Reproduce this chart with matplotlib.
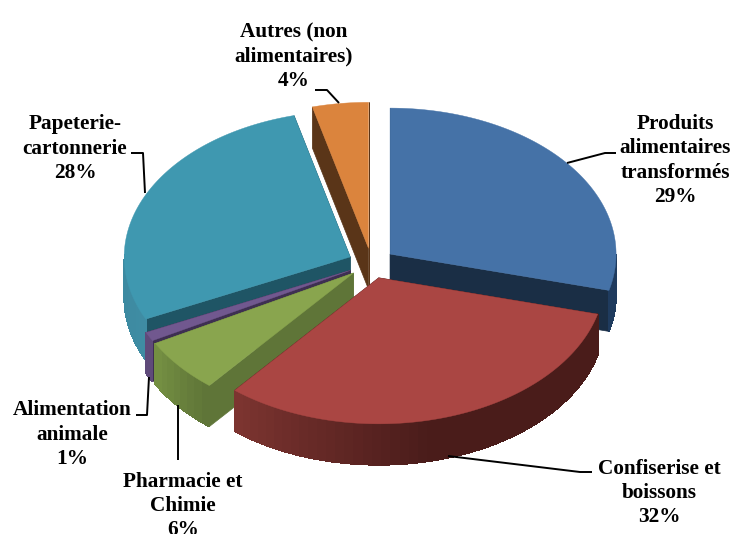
import numpy as np
import matplotlib
matplotlib.use("Agg")
import matplotlib.pyplot as plt
from matplotlib.collections import PolyCollection
from matplotlib.colors import to_rgb

labels = ["Produits\nalimentaires\ntransformés\n29%", "Confiserise et\nboissons\n32%",
          "Pharmacie et\nChimie\n6%", "Alimentation\nanimale\n1%",
          "Papeterie-\ncartonnerie\n28%", "Autres (non\nalimentaires)\n4%"]
shares = [29, 32, 6, 1, 28, 4]

top_colors = ["#4572A7", "#AA4643", "#89A54E", "#71588F", "#3F98B0", "#DB843D"]
cut_colors = ["#1A2E45", "#4A1C1A", "#5F7538", "#3E2F52", "#1F5565", "#5A3518"]
# outer wall colour at start and end of each slice
wall_start = ["#1F3B5E", "#4A1C1A", "#5F7538", "#5F4A7A", "#3F8CA3", "#5A3518"]
wall_end = ["#1F3B5E", "#7C3430", "#748F42", "#5F4A7A", "#33839A", "#5A3518"]

label_pos = [(675.5, 160.5), (659, 493), (183, 506), (72, 434.5), (75, 148.5), (294, 56.5)]
leaders = [[(567, 163), (605, 153), (616, 153)],
           [(448, 456), (580, 472), (592, 472)],
           [(178, 405), (178, 460)],
           [(149, 377), (147, 415), (136, 415)],
           [(145, 193), (143, 153), (131, 153)],
           [(315, 90), (327, 90), (339, 103)]]

cx, cy = 371.5, 263.4
rx, ry = 226, 146
explode = 0.104
depth = 41
# painter order, back to front
order = [5, 4, 0, 3, 2, 1]

fig = plt.figure(figsize=(7.34, 5.34), dpi=100)
ax = fig.add_axes([0, 0, 1, 1])
ax.set_xlim(0, 734)
ax.set_ylim(534, 0)
ax.axis("off")

edges = np.cumsum([0] + shares) / sum(shares) * 2 * np.pi


def rim(x0, y0, t):
    return np.column_stack([x0 + rx * np.sin(t), y0 - ry * np.cos(t)])


for i in order:
    t0, t1 = edges[i], edges[i + 1]
    mid = (t0 + t1) / 2
    x0 = cx + explode * rx * np.sin(mid)
    y0 = cy - explode * ry * np.cos(mid)
    t = np.linspace(t0, t1, max(int((t1 - t0) * 25), 3))
    arc = rim(x0, y0, t)
    fine = rim(x0, y0, np.linspace(t0, t1, 200))
    down = np.array([0, depth])
    z = order.index(i) * 3

    # cut walls
    for end in [arc[0], arc[-1]]:
        quad = [(x0, y0), end, end + down, (x0, y0 + depth)]
        ax.fill(*zip(*quad), color=cut_colors[i], lw=0.5, zorder=1 + z)

    # outer wall, only the front part shows
    c0, c1 = np.array(to_rgb(wall_start[i])), np.array(to_rgb(wall_end[i]))
    front = np.cos(np.linspace(t0, t1, 200)) <= 0
    if front.any():
        f = fine[front]
        # smooth base under the bands so the outline stays clean
        base = np.vstack([f, f[::-1] + down])
        ax.fill(base[:, 0], base[:, 1], color=tuple((c0 + c1) / 2), lw=0.3, zorder=2 + z)
    quads = []
    cols = []
    for k in range(len(t) - 1):
        tm = (t[k] + t[k + 1]) / 2
        if np.cos(tm) > 0:
            continue
        quads.append([arc[k], arc[k + 1], arc[k + 1] + down, arc[k] + down])
        g = k / max(len(t) - 2, 1)
        if i == 1:
            # red stays dark until about the bottom, then lightens to the left
            g = max(0, (g - 0.55) / 0.45)
        cols.append(c0 + (c1 - c0) * g)
    if quads:
        pc = PolyCollection(quads, facecolors=cols, edgecolors=cols, linewidths=0.5,
                            antialiaseds=False, zorder=2 + z)
        ax.add_collection(pc)

    # top face
    poly = np.vstack([[x0, y0], fine])
    ax.fill(poly[:, 0], poly[:, 1], color=top_colors[i], lw=0.3, zorder=3 + z)

for pts in leaders:
    xs, ys = zip(*pts)
    ax.plot(xs, ys, color="black", lw=1.4, zorder=30, solid_capstyle="butt")

for lab, (x, y) in zip(labels, label_pos):
    ax.text(x, y, lab, ha="center", va="center", family="Liberation Serif", weight="bold",
            fontsize=15.3, linespacing=1.29, color="black", zorder=31, clip_on=False)

fig.savefig("out.png", dpi=100)
